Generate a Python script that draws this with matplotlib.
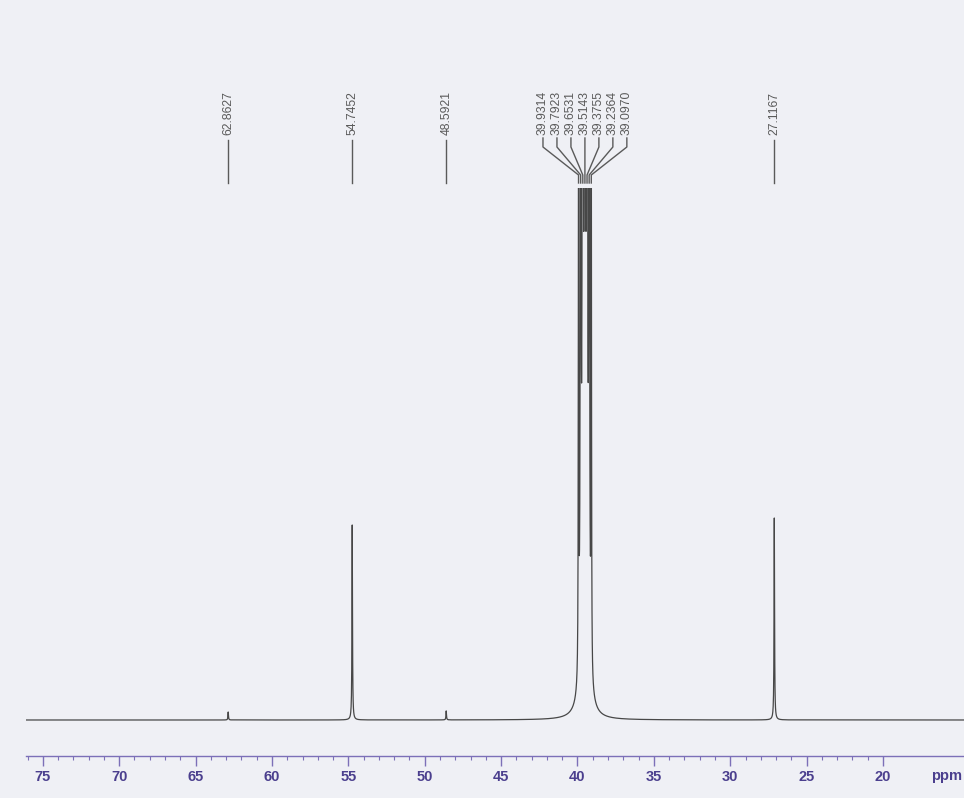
import numpy as np
import matplotlib
matplotlib.use("Agg")
import matplotlib.pyplot as plt
from matplotlib import transforms

# ---- data ----
single_peaks = [62.8627, 54.7452, 48.5921, 27.1167]      # ppm
single_heights = [8, 195, 9, 202]                          # relative intensity
septet_peaks = [39.9314, 39.7923, 39.6531, 39.5143, 39.3755, 39.2364, 39.0970]
septet_heights = [600, 1800, 3600, 4200, 3600, 1800, 600]  # DMSO-d6 septet (off scale)
solvent_base_height = 40                                   # broad foot under the solvent
tick_values = [75, 70, 65, 60, 55, 50, 45, 40, 35, 30, 25, 20]
x_unit = "ppm"

# ---- styling / layout ----
W, H = 964, 798
bg = "#eff0f5"
trace_col = "#474747"
label_col = "#5a5a5a"
axis_col = "#7c70b8"
tick_lab_col = "#4b3f8e"
gamma = 0.02
gamma_sept = 0.0164
gamma_base = 0.3
x_left, x_right = 76.1, 14.7

fig = plt.figure(figsize=(W / 100, H / 100), dpi=100, facecolor=bg)
ax = fig.add_axes([26 / W, 1 - 756 / H, (W - 26) / W, (756 - 188) / H])
ax.set_facecolor(bg)


def lorentz(x, p, h, g):
    return h * g ** 2 / ((x - p) ** 2 + g ** 2)


x = np.arange(x_right, x_left, 0.001)
y = np.zeros_like(x)
for p, h in zip(single_peaks, single_heights):
    y += lorentz(x, p, h, gamma)
for p, h in zip(septet_peaks, septet_heights):
    y += lorentz(x, p, h, gamma_sept)
y += lorentz(x, np.mean(septet_peaks), solvent_base_height, gamma_base)

ax.plot(x, y, color=trace_col, lw=0.9, clip_on=True)
ax.set_xlim(x_left, x_right)
ax.set_ylim(-36, 532)

for s in ["left", "right", "top"]:
    ax.spines[s].set_visible(False)
ax.spines["bottom"].set_color(axis_col)
ax.spines["bottom"].set_linewidth(1.0)
ax.set_yticks([])
ax.set_xticks(tick_values)
ax.set_xticklabels([str(t) for t in tick_values])
ax.set_xticks(np.arange(20, 77, 1), minor=True)
ax.tick_params(axis="x", which="major", direction="out", length=7, width=1.0,
               color=axis_col, pad=3, labelcolor=tick_lab_col)
ax.tick_params(axis="x", which="minor", direction="out", length=3, width=0.8,
               color=axis_col)
for lab in ax.get_xticklabels():
    lab.set_fontfamily("Liberation Sans")
    lab.set_fontweight("bold")
    lab.set_fontsize(10.5)

fig.text(947 / W, 1 - 776 / H, x_unit, ha="center", va="center",
         fontfamily="Liberation Sans", fontweight="bold", fontsize=10.5,
         color=tick_lab_col)

# ---- peak labels ----
tr = transforms.blended_transform_factory(ax.transData, fig.transFigure)


def fy(p):
    return 1 - p / H


lab_kw = dict(rotation=90, ha="center", va="bottom", fontsize=8.7,
              fontfamily="Liberation Sans", color=label_col, transform=tr)
line_kw = dict(color=label_col, lw=1.0, transform=tr, clip_on=False)

for p in single_peaks:
    ax.text(p, fy(135), f"{p:.4f}", **lab_kw)
    ax.plot([p, p], [fy(140), fy(183)], **line_kw)

spread = 14 / 15.3
center = np.mean(septet_peaks)
n = len(septet_peaks)
for i, p in enumerate(septet_peaks):
    lx = center + (n // 2 - i) * spread
    ax.text(lx, fy(135), f"{p:.4f}", **lab_kw)
    ax.plot([lx, lx, p, p], [fy(138), fy(147), fy(175), fy(183)], **line_kw)

fig.savefig("out.png", dpi=100, facecolor=bg)
